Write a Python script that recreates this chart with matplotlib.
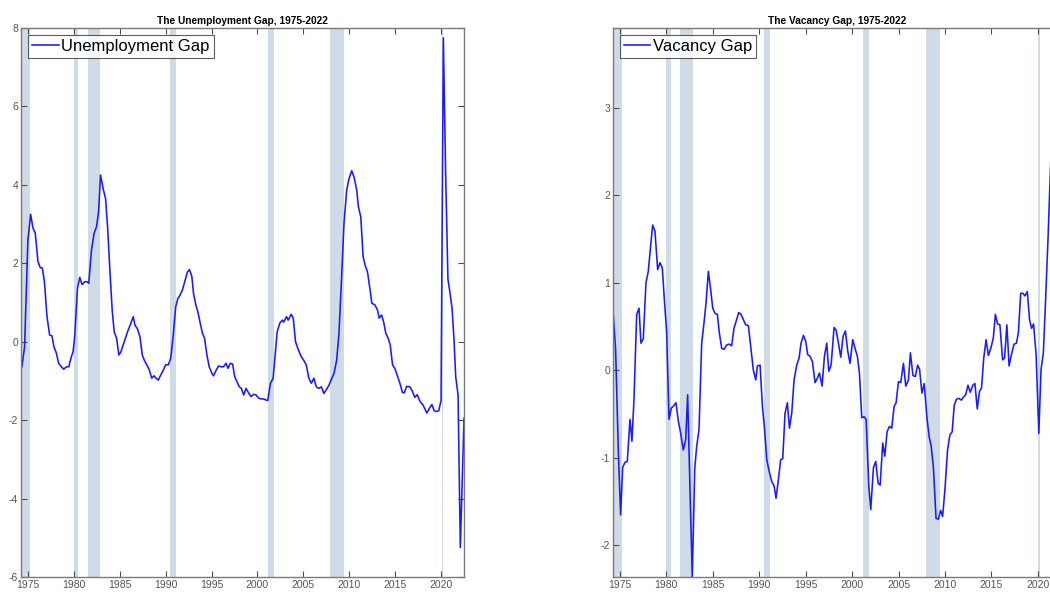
import matplotlib
matplotlib.use("Agg")
import matplotlib.pyplot as plt

plt.rcParams['font.family'] = ['Liberation Sans', 'DejaVu Sans']
plt.rcParams['axes.unicode_minus'] = False

# ---------------- data ----------------
unemp_years = [1974.35, 1974.64, 1975.0, 1975.3, 1975.55, 1975.8, 1976.1, 1976.35, 1976.57, 1976.8,
               1977.08, 1977.37, 1977.62, 1977.84, 1978.1, 1978.35, 1978.65, 1978.9, 1979.2, 1979.45,
               1979.74, 1979.92, 1980.1, 1980.4, 1980.65, 1980.9, 1981.2, 1981.45, 1981.63, 1981.93,
               1982.21, 1982.47, 1982.7, 1982.91, 1983.2, 1983.46, 1983.68, 1983.93, 1984.18, 1984.4,
               1984.66, 1984.91, 1985.13, 1985.38, 1985.65, 1985.93, 1986.22, 1986.48, 1986.66, 1986.91,
               1987.2, 1987.46, 1987.68, 1987.94, 1988.19, 1988.49, 1988.74, 1988.96, 1989.2, 1989.47,
               1989.76, 1990.0, 1990.3, 1990.56, 1990.85, 1991.1, 1991.33, 1991.58, 1991.83, 1992.13,
               1992.38, 1992.6, 1992.86, 1993.04, 1993.3, 1993.52, 1993.77, 1994.02, 1994.24, 1994.5,
               1994.75, 1995.05, 1995.22, 1995.52, 1995.77, 1996.06, 1996.31, 1996.58, 1996.8, 1997.05,
               1997.3, 1997.52, 1997.78, 1998.03, 1998.25, 1998.5, 1998.76, 1999.05, 1999.3, 1999.6,
               1999.85, 2000.14, 2000.43, 2000.69, 2000.95, 2001.12, 2001.42, 2001.71, 2002.15, 2002.43,
               2002.7, 2002.87, 2003.17, 2003.35, 2003.68, 2003.9, 2004.15, 2004.4, 2004.77, 2005.06,
               2005.32, 2005.6, 2005.87, 2006.15, 2006.41, 2006.7, 2006.96, 2007.24, 2007.54, 2007.79,
               2008.05, 2008.34, 2008.63, 2008.88, 2009.14, 2009.43, 2009.72, 2009.98, 2010.27, 2010.52,
               2010.82, 2011.0, 2011.26, 2011.51, 2011.73, 2011.99, 2012.27, 2012.46, 2012.79, 2013.08,
               2013.26, 2013.52, 2013.74, 2013.99, 2014.24, 2014.46, 2014.72, 2014.97, 2015.27, 2015.52,
               2015.8, 2016.0, 2016.25, 2016.6, 2016.85, 2017.15, 2017.4, 2017.7, 2018.05, 2018.45,
               2018.73, 2019.0, 2019.25, 2019.5, 2019.75, 2020.0, 2020.25, 2020.5, 2020.75, 2021.0,
               2021.2, 2021.4, 2021.6, 2021.85, 2022.1, 2022.5]
unemp_gap = [-0.64, -0.13, 2.59, 3.25, 2.90, 2.77, 2.04, 1.89, 1.88, 1.53,
             0.64, 0.17, 0.15, -0.13, -0.29, -0.55, -0.64, -0.70, -0.64, -0.64,
             -0.38, -0.26, 0.13, 1.36, 1.64, 1.46, 1.53, 1.53, 1.49, 2.34,
             2.76, 2.93, 3.31, 4.25, 3.90, 3.65, 2.93, 1.83, 0.81, 0.25,
             0.09, -0.34, -0.26, -0.08, 0.11, 0.30, 0.47, 0.64, 0.42, 0.34,
             0.13, -0.34, -0.47, -0.59, -0.70, -0.93, -0.87, -0.93, -0.98, -0.85,
             -0.72, -0.59, -0.59, -0.42, 0.21, 0.89, 1.10, 1.19, 1.32, 1.57,
             1.78, 1.84, 1.66, 1.23, 0.93, 0.76, 0.47, 0.21, 0.09, -0.34,
             -0.64, -0.81, -0.87, -0.72, -0.62, -0.64, -0.64, -0.55, -0.68, -0.55,
             -0.57, -0.89, -1.02, -1.15, -1.19, -1.36, -1.19, -1.31, -1.40, -1.34,
             -1.36, -1.44, -1.46, -1.46, -1.49, -1.50, -1.06, -0.93, 0.25, 0.47,
             0.55, 0.50, 0.64, 0.55, 0.70, 0.60, 0.00, -0.17, -0.38, -0.48,
             -0.59, -0.93, -1.06, -0.93, -1.15, -1.19, -1.15, -1.32, -1.21, -1.11,
             -0.96, -0.81, -0.47, 0.21, 1.49, 3.02, 3.86, 4.16, 4.36, 4.20,
             3.86, 3.44, 3.18, 2.17, 1.95, 1.78, 1.32, 0.98, 0.94, 0.81,
             0.60, 0.68, 0.51, 0.21, 0.09, -0.08, -0.59, -0.68, -0.89, -1.06,
             -1.30, -1.30, -1.14, -1.15, -1.25, -1.42, -1.35, -1.52, -1.62, -1.82,
             -1.70, -1.60, -1.76, -1.78, -1.76, -1.50, 7.75, 4.30, 1.60, 1.20,
             0.85, 0.10, -0.90, -1.35, -5.25, -1.95]

vac_years = [1974.28, 1974.53, 1974.82, 1975.07, 1975.29, 1975.54, 1975.79, 1976.08, 1976.29, 1976.51,
             1976.8, 1977.05, 1977.26, 1977.51, 1977.8, 1978.05, 1978.3, 1978.52, 1978.77, 1979.06,
             1979.31, 1979.56, 1979.78, 1980.03, 1980.28, 1980.53, 1980.75, 1981.03, 1981.29, 1981.54,
             1981.82, 1982.08, 1982.29, 1982.54, 1982.79, 1983.05, 1983.26, 1983.51, 1983.8, 1984.05,
             1984.27, 1984.52, 1984.77, 1984.99, 1985.24, 1985.49, 1985.7, 1985.96, 1986.21, 1986.49,
             1986.75, 1987.03, 1987.28, 1987.57, 1987.79, 1988.04, 1988.29, 1988.54, 1988.83, 1989.08,
             1989.37, 1989.62, 1989.8, 1990.09, 1990.34, 1990.55, 1990.81, 1991.06, 1991.34, 1991.6,
             1991.81, 1992.06, 1992.31, 1992.53, 1992.78, 1993.03, 1993.25, 1993.5, 1993.75, 1994.04,
             1994.29, 1994.5, 1994.76, 1995.01, 1995.22, 1995.47, 1995.73, 1996.01, 1996.26, 1996.48,
             1996.77, 1997.02, 1997.27, 1997.49, 1997.74, 1998.06, 1998.28, 1998.53, 1998.78, 1999.03,
             1999.28, 1999.53, 1999.78, 2000.07, 2000.32, 2000.57, 2000.79, 2001.04, 2001.29, 2001.51,
             2001.8, 2002.01, 2002.3, 2002.55, 2002.8, 2003.02, 2003.3, 2003.52, 2003.77, 2004.02,
             2004.27, 2004.53, 2004.74, 2004.99, 2005.24, 2005.53, 2005.78, 2006.07, 2006.28, 2006.56,
             2006.81, 2007.06, 2007.27, 2007.52, 2007.77, 2008.05, 2008.3, 2008.51, 2008.76, 2009.04,
             2009.29, 2009.54, 2009.75, 2010.0, 2010.28, 2010.53, 2010.78, 2011.0, 2011.24, 2011.49,
             2011.77, 2012.02, 2012.23, 2012.48, 2012.73, 2013.01, 2013.23, 2013.48, 2013.72, 2013.94,
             2014.18, 2014.43, 2014.68, 2014.96, 2015.21, 2015.43, 2015.67, 2015.92, 2016.21, 2016.42,
             2016.67, 2016.91, 2017.16, 2017.45, 2017.7, 2017.91, 2018.16, 2018.4, 2018.62, 2018.87,
             2019.11, 2019.33, 2019.54, 2019.82, 2020.11, 2020.35, 2020.6, 2020.82, 2021.1, 2021.4,
             2021.9]
vac_gap = [0.64, 0.24, -0.91, -1.65, -1.11, -1.05, -1.04, -0.56, -0.81, -0.33,
           0.64, 0.71, 0.31, 0.36, 1.00, 1.13, 1.42, 1.66, 1.59, 1.15,
           1.23, 1.17, 0.81, 0.43, -0.56, -0.43, -0.41, -0.37, -0.58, -0.72,
           -0.91, -0.79, -0.28, -1.36, -2.36, -1.13, -0.87, -0.68, 0.31, 0.54,
           0.77, 1.13, 0.92, 0.71, 0.65, 0.64, 0.43, 0.25, 0.24, 0.29,
           0.30, 0.28, 0.48, 0.58, 0.66, 0.64, 0.58, 0.52, 0.51, 0.27,
           0.00, -0.11, 0.05, 0.06, -0.41, -0.64, -1.02, -1.15, -1.27, -1.32,
           -1.46, -1.25, -1.02, -1.01, -0.49, -0.37, -0.66, -0.49, -0.11, 0.06,
           0.14, 0.31, 0.40, 0.33, 0.18, 0.16, 0.10, -0.14, -0.09, -0.03,
           -0.18, 0.16, 0.31, -0.01, 0.06, 0.49, 0.46, 0.31, 0.15, 0.39,
           0.45, 0.22, 0.08, 0.35, 0.25, 0.16, -0.03, -0.54, -0.53, -0.56,
           -1.32, -1.59, -1.11, -1.04, -1.29, -1.31, -0.83, -0.98, -0.70, -0.64,
           -0.66, -0.41, -0.37, -0.13, -0.14, 0.08, -0.18, -0.11, 0.20, -0.06,
           -0.07, 0.06, 0.01, -0.26, -0.15, -0.53, -0.76, -0.86, -1.11, -1.69,
           -1.70, -1.60, -1.67, -1.36, -0.91, -0.74, -0.70, -0.40, -0.33, -0.32,
           -0.34, -0.30, -0.28, -0.17, -0.25, -0.17, -0.15, -0.44, -0.24, -0.20,
           0.14, 0.35, 0.17, 0.26, 0.37, 0.64, 0.53, 0.52, 0.12, 0.14,
           0.52, 0.05, 0.18, 0.30, 0.31, 0.43, 0.88, 0.88, 0.85, 0.90,
           0.58, 0.48, 0.53, 0.18, -0.72, 0.01, 0.20, 0.75, 1.50, 2.40,
           3.91]

recession_start = [1973.9, 1980.0, 1981.5, 1990.5, 2001.17, 2007.92, 2020.05]
recession_end = [1975.2, 1980.5, 1982.85, 1991.17, 2001.85, 2009.42, 2020.25]

x_ticks = [1975, 1980, 1985, 1990, 1995, 2000, 2005, 2010, 2015, 2020]
unemp_yticks = [-6, -4, -2, 0, 2, 4, 6, 8]
vac_yticks = [-2, -1, 0, 1, 2, 3]

# ---------------- figure ----------------
W, H = 1050, 594
fig = plt.figure(figsize=(W / 100, H / 100), dpi=100)

ax1 = fig.add_axes([21 / W, 17 / H, 443 / W, 549 / H])
ax2 = fig.add_axes([613 / W, 17 / H, 448 / W, 549 / H])

shade = '#cfdbe6'
line_c = '#1a1aff'
spine_c = '#4a4a4a'
tick_c = '#555555'

def style(ax, title, yticks, ylim):
    for s, e in zip(recession_start, recession_end):
        ax.axvspan(s, e, color=shade, lw=0, zorder=0)
    ax.set_xlim(1974.25, 2022.5)
    ax.set_ylim(*ylim)
    ax.set_xticks(x_ticks)
    ax.set_yticks(yticks)
    ax.tick_params(direction='in', length=4, width=0.8, colors=spine_c,
                   labelcolor=tick_c, labelsize=7.5, top=True, right=True, pad=2)
    for sp in ax.spines.values():
        sp.set_color('#7a7a7a')
        sp.set_linewidth(1.0)
    ax.set_title(title, fontsize=7.3, fontweight='bold', pad=3)
    leg = ax.legend(loc='upper left', fontsize=12, frameon=True, fancybox=False,
                    handlelength=1.6, handletextpad=0.15, borderpad=0.25,
                    borderaxespad=0.4)
    leg.get_frame().set_edgecolor('#333333')
    leg.get_frame().set_linewidth(0.8)

ax1.plot(unemp_years, unemp_gap, color=line_c, lw=1.15, label='Unemployment Gap')
style(ax1, 'The Unemployment Gap, 1975-2022', unemp_yticks, (-6, 8))

ax2.plot(vac_years, vac_gap, color=line_c, lw=1.15, label='Vacancy Gap')
style(ax2, 'The Vacancy Gap, 1975-2022', vac_yticks, (-2.36, 3.91))

fig.savefig('out.png', dpi=100)
